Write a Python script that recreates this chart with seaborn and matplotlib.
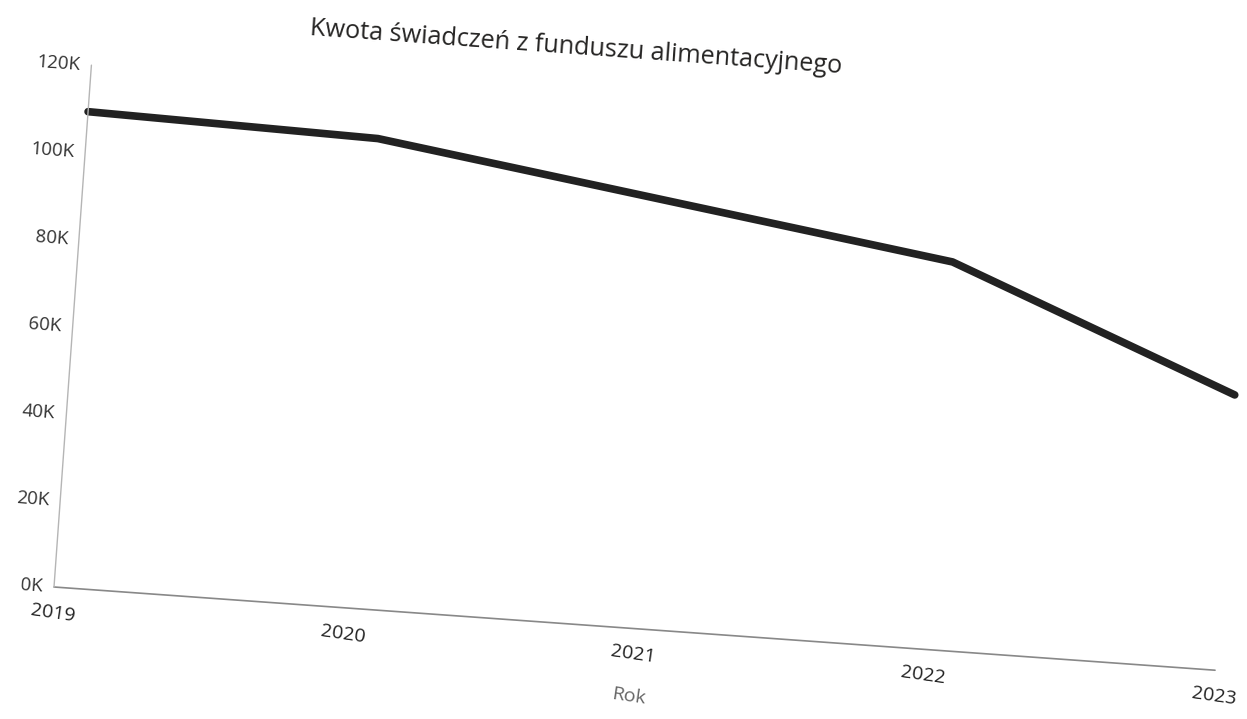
import numpy as np
import pandas as pd
import seaborn as sns
import matplotlib.pyplot as plt
from matplotlib.transforms import Affine2D
import mpl_toolkits.axisartist.floating_axes as floating_axes
from mpl_toolkits.axisartist.grid_finder import FixedLocator, DictFormatter

# dane
lata = [2019, 2020, 2021, 2022, 2023]
kwota = [109300, 107900, 98500, 89100, 63300]
y_ticks = [0, 20000, 40000, 60000, 80000, 100000, 120000]
y_tick_labels = ["0K", "20K", "40K", "60K", "80K", "100K", "120K"]
tytul = "Kwota świadczeń z funduszu alimentacyjnego"

df = pd.DataFrame({"Rok": lata, "Kwota": kwota})

sns.set_theme(style="white")
plt.rcParams["font.family"] = ["Open Sans", "DejaVu Sans"]

W, H = 1247, 719
fig = plt.figure(figsize=(W / 100, H / 100), dpi=100)

# wykres na zdjeciu jest lekko obrocony
kat = -4.1
px_rok = 291
px_na_tys = 4.36
tr = Affine2D().translate(-lata[0], 0).scale(px_rok, px_na_tys / 1000).rotate_deg(kat)

grid_helper = floating_axes.GridHelperCurveLinear(
    tr,
    extremes=(lata[0], lata[-1], y_ticks[0], y_ticks[-1]),
    grid_locator1=FixedLocator(lata),
    tick_formatter1=DictFormatter({r: str(r) for r in lata}),
    grid_locator2=FixedLocator(y_ticks),
    tick_formatter2=DictFormatter(dict(zip(y_ticks, y_tick_labels))),
)

# polozenie osi tak, by poczatek ukladu wypadl w (54, 587) px
rogi = tr.transform([[lata[0], y_ticks[0]], [lata[-1], y_ticks[0]],
                     [lata[0], y_ticks[-1]], [lata[-1], y_ticks[-1]]])
x0, y0 = rogi.min(axis=0)
x1, y1 = rogi.max(axis=0)
bw, bh = (x1 - x0) * 1.02, (y1 - y0) * 1.02
xmin = x0 - (x1 - x0) * 0.01
ymin = y0 - (y1 - y0) * 0.01
left = 54 + xmin
bottom = (H - 587) + ymin

ax = fig.add_axes([left / W, bottom / H, bw / W, bh / H],
                  axes_class=floating_axes.FloatingAxes, grid_helper=grid_helper)
aux = ax.get_aux_axes(tr)

sns.lineplot(data=df, x="Rok", y="Kwota", ax=aux, color="#222222", linewidth=5.5)

ax.axis["top"].set_visible(False)
ax.axis["right"].set_visible(False)

os_y = ax.axis["left"]
os_y.line.set_color("#b5b5b5")
os_y.line.set_linewidth(1.0)
os_y.major_ticks.set_visible(False)
os_y.major_ticklabels.set_fontsize(13.5)
os_y.major_ticklabels.set_color("#333333")
os_y.major_ticklabels.set_rotation(os_y.major_ticklabels.get_rotation() + kat)
os_y.major_ticklabels.set_pad(8)

os_x = ax.axis["bottom"]
os_x.line.set_color("#888888")
os_x.line.set_linewidth(1.2)
os_x.major_ticks.set_visible(False)
os_x.major_ticklabels.set_fontsize(14)
os_x.major_ticklabels.set_color("#222222")
os_x.major_ticklabels.set_rotation(os_x.major_ticklabels.get_rotation() + kat)
os_x.major_ticklabels.set_pad(13)
os_x.label.set_text("Rok")
os_x.label.set_fontsize(14)
os_x.label.set_color("#666666")
os_x.label.set_rotation(os_x.label.get_rotation() + kat)
os_x.label.set_pad(20)

fig.text(576 / W, 1 - 48 / H, tytul, rotation=kat, rotation_mode="anchor",
         ha="center", va="center", fontsize=18.2, color="#252423")

fig.savefig("out.png", dpi=100, facecolor="white")
